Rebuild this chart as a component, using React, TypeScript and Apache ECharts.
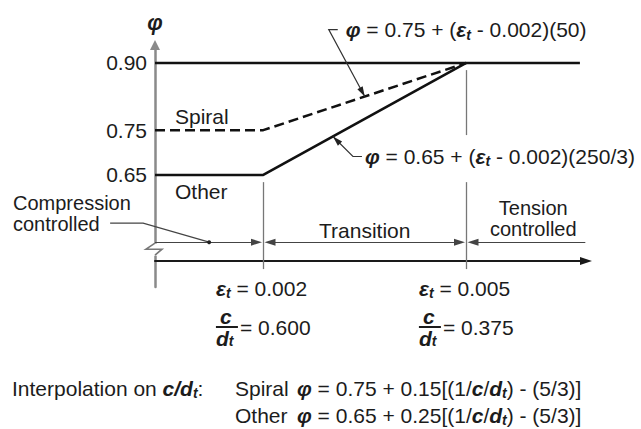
import React, { useEffect, useRef } from 'react';
import * as echarts from 'echarts';

const FONT = "'Liberation Sans', Arial, Helvetica, sans-serif";
const TXT = '#1c1c1c';

// ---- data ----
const otherEps = [0.0004, 0.002, 0.005];
const otherPhi = [0.65, 0.65, 0.9];
const spiralEps = [0.0004, 0.002, 0.005];
const spiralPhi = [0.75, 0.75, 0.9];
const limitEps = [0.0004, 0.00668];
const limitPhi = [0.9, 0.9];
const phiTicks = [0.65, 0.75, 0.9];
const epsTicks = [0.002, 0.005];
const epsTickLabels = ['0.002', '0.005'];
const cdTickLabels = ['0.600', '0.375'];
const regionBounds = [0.0004, 0.002, 0.005, 0.00676];
const regionPhi = 0.5;
const xAxisRange = [0.0004, 0.00677];
const yAxisRange = [0.4, 0.94];
const xAxisPhi = 0.458;
const guideSpans = [
  [0.002, 0.634, 0.44],
  [0.005, 0.884, 0.739],
  [0.005, 0.634, 0.44],
];
const spiralNoteEps = 0.0035;
const otherNoteEps = 0.00303;
const compNoteEps = 0.0012;
const arrowGap = 0.0001;

function interp(xs: number[], ys: number[], x: number) {
  for (let i = 0; i < xs.length - 1; i++) {
    if (x >= xs[i] && x <= xs[i + 1]) {
      const t = (x - xs[i]) / (xs[i + 1] - xs[i]);
      return ys[i] + t * (ys[i + 1] - ys[i]);
    }
  }
  return ys[ys.length - 1];
}

const bi = { fontFamily: FONT, fontWeight: 'bold', fontStyle: 'italic' };

export default function App() {
  const ref = useRef<HTMLDivElement>(null);
  useEffect(() => {
    const el = ref.current!;
    const chart = echarts.init(el, null, { renderer: 'svg' });
    const H = 429;
    const grid = { left: 155, right: 55, top: 45, bottom: 142 };
    const gridH = H - grid.top - grid.bottom;
    const xOffset = -((xAxisPhi - yAxisRange[0]) / (yAxisRange[1] - yAxisRange[0])) * gridH;

    const xRich: any = {
      n: { fontSize: 21, fontFamily: FONT, color: TXT, lineHeight: 24, align: 'left', verticalAlign: 'middle' },
      e: { fontSize: 21, ...bi, color: TXT, lineHeight: 24, align: 'left', verticalAlign: 'middle' },
      s: { fontSize: 14, ...bi, color: TXT, lineHeight: 6, align: 'left', verticalAlign: 'bottom' },
      sp: { fontSize: 6, lineHeight: 6, align: 'left' },
      c: { fontSize: 21, ...bi, color: TXT, lineHeight: 20, align: 'left', padding: [0, 0, 0, 4] },
      bar: { fontSize: 2, width: 22, height: 2, lineHeight: 2, backgroundColor: TXT, align: 'left' },
      eq: { fontSize: 21, fontFamily: FONT, color: TXT, lineHeight: 2, align: 'left', padding: [0, 0, 0, 2] },
      d: { fontSize: 21, ...bi, color: TXT, lineHeight: 20, align: 'left', verticalAlign: 'middle' },
    };

    const xFormatter = (v: number) => {
      const i = epsTicks.findIndex((t) => Math.abs(t - v) < 1e-9);
      if (i < 0) return '';
      return (
        `{e|ε}{s|t}{n| = ${epsTickLabels[i]}}\n{sp| }\n{c|c}\n{bar| }{eq|= ${cdTickLabels[i]}}\n{d|d}{s|t}`
      );
    };

    const option: any = {
      animation: false,
      backgroundColor: '#ffffff',
      grid: { ...grid, containLabel: false, outerBoundsMode: 'none' },
      xAxis: {
        type: 'value',
        min: xAxisRange[0],
        max: xAxisRange[1],
        offset: xOffset,
        axisLine: {
          show: true,
          onZero: false,
          symbol: ['none', 'triangle'],
          symbolSize: [8, 12],
          lineStyle: { color: '#1a1a1a', width: 2 },
        },
        axisTick: { show: false },
        splitLine: { show: false },
        axisLabel: {
          customValues: epsTicks,
          margin: 15,
          formatter: xFormatter,
          rich: xRich,
          color: TXT,
          fontFamily: FONT,
          fontSize: 21,
        },
      },
      yAxis: {
        type: 'value',
        min: yAxisRange[0],
        max: yAxisRange[1],
        name: 'φ',
        nameLocation: 'end',
        nameGap: 12,
        nameTextStyle: { fontSize: 22, ...bi, color: TXT },
        axisLine: {
          show: true,
          onZero: false,
          symbol: ['none', 'triangle'],
          symbolSize: [10, 10],
          lineStyle: { color: '#8a8a8a', width: 2.5 },
        },
        axisTick: { show: false },
        splitLine: { show: false },
        axisLabel: {
          customValues: phiTicks,
          margin: 8,
          fontSize: 21,
          fontFamily: FONT,
          color: TXT,
          formatter: (v: number) =>
            phiTicks.some((t) => Math.abs(t - v) < 1e-9) ? v.toFixed(2) : '',
        },
      },
      series: [
        {
          name: 'Spiral',
          type: 'line',
          data: spiralEps.map((e, i) => [e, spiralPhi[i]]),
          symbol: 'none',
          clip: false,
          silent: true,
          lineStyle: { color: '#111', width: 2.5, type: [10, 5] },
          z: 3,
        },
        {
          name: 'Other',
          type: 'line',
          data: otherEps.map((e, i) => [e, otherPhi[i]]),
          symbol: 'none',
          clip: false,
          silent: true,
          lineStyle: { color: '#111', width: 2.6 },
          z: 4,
        },
        {
          name: 'Limit',
          type: 'line',
          data: limitEps.map((e, i) => [e, limitPhi[i]]),
          symbol: 'none',
          clip: false,
          silent: true,
          lineStyle: { color: '#111', width: 2.6 },
          z: 4,
        },
        {
          name: 'guides',
          type: 'line',
          data: [],
          silent: true,
          markLine: {
            silent: true,
            symbol: ['none', 'none'],
            label: { show: false },
            lineStyle: { color: '#777', width: 1.3, type: 'solid' },
            emphasis: { disabled: true },
            data: guideSpans.map(([e, a, b]) => [{ coord: [e, a] }, { coord: [e, b] }]),
          },
        },
        {
          name: 'regions',
          type: 'line',
          data: [],
          silent: true,
          markLine: {
            silent: true,
            symbolSize: [7, 11],
            label: { show: false },
            lineStyle: { color: '#444', width: 1.2, type: 'solid' },
            emphasis: { disabled: true },
            data: [
              [
                { coord: [regionBounds[0], regionPhi], symbol: 'none' },
                { coord: [regionBounds[1] - arrowGap, regionPhi], symbol: 'triangle' },
              ],
              [
                { coord: [regionBounds[1] + arrowGap, regionPhi], symbol: 'triangle' },
                { coord: [regionBounds[2] - arrowGap, regionPhi], symbol: 'triangle' },
              ],
              [
                { coord: [regionBounds[2] + arrowGap, regionPhi], symbol: 'triangle' },
                { coord: [regionBounds[3], regionPhi], symbol: 'none' },
              ],
            ],
          },
        },
      ],
    };
    chart.setOption(option);

    const P = (x: number, y: number) =>
      chart.convertToPixel({ gridIndex: 0 } as any, [x, y]) as number[];

    const gRich: any = {
      n: { fontSize: 21, fontFamily: FONT, fill: TXT, color: TXT, lineHeight: 24, verticalAlign: 'middle' },
      b: { fontSize: 21, ...bi, fill: TXT, color: TXT, lineHeight: 24, verticalAlign: 'middle' },
      s: { fontSize: 14, ...bi, fill: TXT, color: TXT, lineHeight: 6, verticalAlign: 'bottom' },
      lab: { fontSize: 21, fontFamily: FONT, fill: TXT, color: TXT, lineHeight: 24, width: 62, verticalAlign: 'middle' },
    };
    const txt = (x: number, y: number, text: string, align = 'left', extra: any = {}) => ({
      type: 'text',
      x,
      y,
      z: 50,
      silent: true,
      style: {
        text,
        fill: TXT,
        fontSize: 21,
        fontFamily: FONT,
        align,
        verticalAlign: 'middle',
        ...extra,
      },
    });
    const richTxt = (x: number, y: number, text: string) => ({
      type: 'text',
      x,
      y,
      z: 50,
      silent: true,
      style: { text, rich: gRich, fill: TXT, fontSize: 21, fontFamily: FONT, align: 'left', verticalAlign: 'middle' },
    });
    const arrowHead = (from: number[], tip: number[], L = 10, W = 6) => {
      const dx = tip[0] - from[0];
      const dy = tip[1] - from[1];
      const len = Math.hypot(dx, dy);
      const ux = dx / len;
      const uy = dy / len;
      const bx = tip[0] - ux * L;
      const by = tip[1] - uy * L;
      return {
        type: 'polygon',
        z: 50,
        silent: true,
        shape: {
          points: [
            [tip[0], tip[1]],
            [bx - uy * (W / 2), by + ux * (W / 2)],
            [bx + uy * (W / 2), by - ux * (W / 2)],
          ],
        },
        style: { fill: '#222' },
      };
    };
    const line = (pts: number[][], stroke = '#333', w = 1.2) => ({
      type: 'polyline',
      z: 50,
      silent: true,
      shape: { points: pts },
      style: { stroke, lineWidth: w, fill: null },
    });

    const axX = P(xAxisRange[0], regionPhi)[0];
    const ry = P(xAxisRange[0], regionPhi)[1];
    const y075 = P(xAxisRange[0], 0.75)[1];
    const y065 = P(xAxisRange[0], 0.65)[1];
    const t1 = P(regionBounds[1], regionPhi);
    const t2 = P(regionBounds[2], regionPhi);
    const dot = P(compNoteEps, regionPhi);
    const tip1 = P(spiralNoteEps, interp(spiralEps, spiralPhi, spiralNoteEps));
    const tip2 = P(otherNoteEps, interp(otherEps, otherPhi, otherNoteEps));

    const f1Corner = [tip1[0] - 36, tip1[1] - 67];
    const f2Corner = [tip2[0] + 20, tip2[1] + 20];
    const two = { fontSize: 20 };

    const graphic: any[] = [
      // axis break
      { type: 'rect', z: 60, silent: true, shape: { x: axX - 3, y: ry + 1.5, width: 6, height: 12 }, style: { fill: '#fff' } },
      { ...line([[axX, ry + 1], [axX - 9, ry + 7], [axX + 7, ry + 7], [axX, ry + 13]], '#777', 1.6), z: 61 },
      // labels
      txt(axX + 20, y075 - 14, 'Spiral'),
      txt(axX + 20, y065 + 17, 'Other'),
      txt(13, ry - 39, 'Compression', 'left', two),
      txt(13, ry - 18, 'controlled', 'left', two),
      line([[dot[0] - 99, dot[1] - 19], [dot[0] - 66, dot[1] - 19], dot], '#444', 1.2),
      { type: 'circle', z: 51, silent: true, shape: { cx: dot[0], cy: dot[1], r: 2 }, style: { fill: '#222' } },
      txt((t1[0] + t2[0]) / 2, ry - 12, 'Transition', 'center'),
      txt(t2[0] + 67, ry - 34, 'Tension', 'center', two),
      txt(t2[0] + 67, ry - 13, 'controlled', 'center', two),
      // formula 1 with leader
      line([[f1Corner[0] + 9, f1Corner[1]], f1Corner, tip1], '#333', 1.2),
      arrowHead(f1Corner, tip1),
      richTxt(f1Corner[0] + 17, f1Corner[1], '{b|φ}{n| = 0.75 + (}{b|ε}{s|t}{n| - 0.002)(50)}'),
      // formula 2 with leader
      line([[f2Corner[0] + 9, f2Corner[1]], f2Corner, tip2], '#333', 1.2),
      arrowHead(f2Corner, tip2),
      richTxt(f2Corner[0] + 12, f2Corner[1], '{b|φ}{n| = 0.65 + (}{b|ε}{s|t}{n| - 0.002)(250/3)}'),
      // bottom interpolation text
      richTxt(12, 388, '{n|Interpolation on }{b|c/d}{s|t}{n|:}'),
      richTxt(235, 388, '{lab|Spiral}{b|φ}{n| = 0.75 + 0.15[(1/}{b|c}{n|/}{b|d}{s|t}{n|) - (5/3)]}'),
      richTxt(235, 415, '{lab|Other}{b|φ}{n| = 0.65 + 0.25[(1/}{b|c}{n|/}{b|d}{s|t}{n|) - (5/3)]}'),
    ];
    chart.setOption({ graphic });

    return () => chart.dispose();
  }, []);
  return (
    <div
      ref={ref}
      style={{ position: 'fixed', left: 0, top: 0, width: 641, height: 429, background: '#fff' }}
    />
  );
}
